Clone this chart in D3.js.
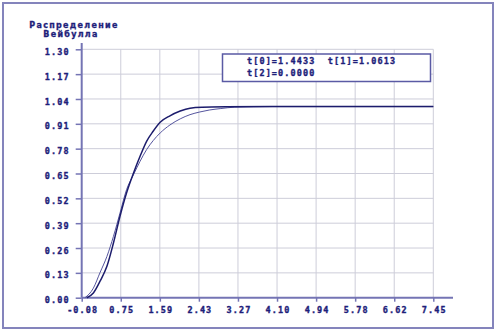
<!DOCTYPE html>
<html>
<head>
<meta charset="utf-8">
<script src="https://cdn.jsdelivr.net/npm/d3@7"></script>
<style>
  body { margin: 0; background: #fff; }
  .lbl { font-family: "DejaVu Sans Mono", monospace; font-weight: bold; font-size: 8.5px; letter-spacing: 1.1px; fill: #1e1e7a; stroke: #1e1e7a; stroke-width: 0.35px; }
  .ttl { font-family: "DejaVu Sans", sans-serif; font-weight: bold; font-size: 8px; letter-spacing: 1.3px; fill: #1e1e7a; stroke: #1e1e7a; stroke-width: 0.3px; }
</style>
</head>
<body>
<div id="chart"></div>
<script>
// tick labels
const xTickLabels = ["-0.08","0.75","1.59","2.43","3.27","4.10","4.94","5.78","6.62","7.45"];
const yTickValues = [0, 0.13, 0.26, 0.39, 0.52, 0.65, 0.78, 0.91, 1.04, 1.17, 1.30];

// empirical distribution (dark line)
const empX = [0.03, 0.17, 0.31, 0.46, 0.60, 0.74, 0.88, 1.03, 1.17, 1.31, 1.45, 1.60, 1.81, 2.03, 2.24, 2.50, 3.00, 4.00, 5.00, 6.00, 7.45];
const empY = [0, 0.025, 0.085, 0.164, 0.286, 0.426, 0.548, 0.653, 0.740, 0.818, 0.871, 0.918, 0.952, 0.977, 0.992, 0.997, 0.999, 1.0, 1.0, 1.0, 1.0];

// fitted Weibull (thin line)
const fitX = [-0.01, 0.17, 0.31, 0.46, 0.60, 0.74, 0.88, 1.03, 1.17, 1.31, 1.45, 1.60, 1.81, 2.03, 2.24, 2.45, 2.65, 2.90, 3.20, 4.00, 7.45];
const fitY = [0, 0.05, 0.13, 0.216, 0.321, 0.443, 0.565, 0.644, 0.714, 0.775, 0.822, 0.862, 0.904, 0.936, 0.958, 0.972, 0.982, 0.990, 0.997, 1.0, 1.0];

const legendLines = ["t[0]=1.4433  t[1]=1.0613", "t[2]=0.0000"];

const W = 499, H = 333;

var svg = d3.select("#chart").append("svg")
    .attr("width", W)
    .attr("height", H);

// outer frame
svg.append("rect")
    .attr("x", 3).attr("y", 3)
    .attr("width", 490).attr("height", 325)
    .attr("fill", "none")
    .attr("stroke", "#8484bc")
    .attr("stroke-width", 2);

// scales
var x = d3.scaleLinear().domain([-0.08, 7.45]).range([81.7, 433.3]);
var y = d3.scaleLinear().domain([0, 1.30]).range([297.7, 49.3]);

var xTickValues = xTickLabels.map((d, i) => -0.08 + i * (7.53 / 9));

// grid
svg.append("g").selectAll("line.h")
  .data(yTickValues.slice(1))
  .join("line")
    .attr("x1", x(-0.08)).attr("x2", x(7.45))
    .attr("y1", d => y(d)).attr("y2", d => y(d))
    .attr("stroke", "#cdcdd9").attr("stroke-width", 1);

svg.append("g").selectAll("line.v")
  .data(xTickValues.slice(1))
  .join("line")
    .attr("x1", d => x(d)).attr("x2", d => x(d))
    .attr("y1", y(0)).attr("y2", y(1.30))
    .attr("stroke", "#cdcdd9").attr("stroke-width", 1);

// axes
var xAxis = svg.append("g")
    .attr("transform", `translate(0, ${y(0)})`)
    .call(d3.axisBottom(x).tickValues(xTickValues).tickFormat((d, i) => xTickLabels[i]).tickSize(4).tickSizeOuter(0));
xAxis.select(".domain").remove();
xAxis.append("line")
    .attr("x1", x(-0.08)).attr("x2", 453)
    .attr("stroke", "#7474b4").attr("stroke-width", 2);

var yAxis = svg.append("g")
    .attr("transform", `translate(${x(-0.08)}, 0)`)
    .call(d3.axisLeft(y).tickValues(yTickValues).tickFormat(d3.format(".2f")).tickSize(6).tickSizeOuter(0));
yAxis.select(".domain").remove();
yAxis.append("line")
    .attr("y1", y(0)).attr("y2", 43)
    .attr("stroke", "#7474b4").attr("stroke-width", 2);

svg.selectAll(".tick line").attr("stroke", "#7474b4").attr("stroke-width", 1.5);
xAxis.selectAll(".tick text").attr("class", "lbl").attr("y", 9).attr("dy", "0.71em").attr("dx", "0.5px");
yAxis.selectAll(".tick text").attr("class", "lbl").attr("x", -12).attr("dy", "0.6em");
svg.selectAll(".tick text").attr("font-family", null).attr("font-size", null).attr("fill", null);

// title
svg.append("text").attr("class", "ttl")
    .attr("x", 74).attr("y", 27.5).attr("text-anchor", "middle")
    .text("Распределение");
svg.append("text").attr("class", "ttl")
    .attr("x", 71).attr("y", 36.5).attr("text-anchor", "middle")
    .text("Вейбулла");

// legend box
svg.append("rect")
    .attr("x", 222.5).attr("y", 54)
    .attr("width", 208).attr("height", 27.5)
    .attr("fill", "#fff")
    .attr("stroke", "#5a5aa4").attr("stroke-width", 1.5);

svg.selectAll("text.leg")
  .data(legendLines)
  .join("text")
    .attr("class", "lbl")
    .attr("x", 247)
    .attr("y", (d, i) => 63.5 + i * 12)
    .style("white-space", "pre")
    .text(d => d);

// curves
var line = d3.line()
    .x(d => x(d[0]))
    .y(d => y(d[1]))
    .curve(d3.curveMonotoneX);

svg.append("path")
    .datum(fitX.map((d, i) => [d, fitY[i]]))
    .attr("fill", "none")
    .attr("stroke", "#55559e")
    .attr("stroke-width", 1)
    .attr("d", line);

svg.append("path")
    .datum(empX.map((d, i) => [d, empY[i]]))
    .attr("fill", "none")
    .attr("stroke", "#1c1c6c")
    .attr("stroke-width", 1.5)
    .attr("d", line);
</script>
</body>
</html>
